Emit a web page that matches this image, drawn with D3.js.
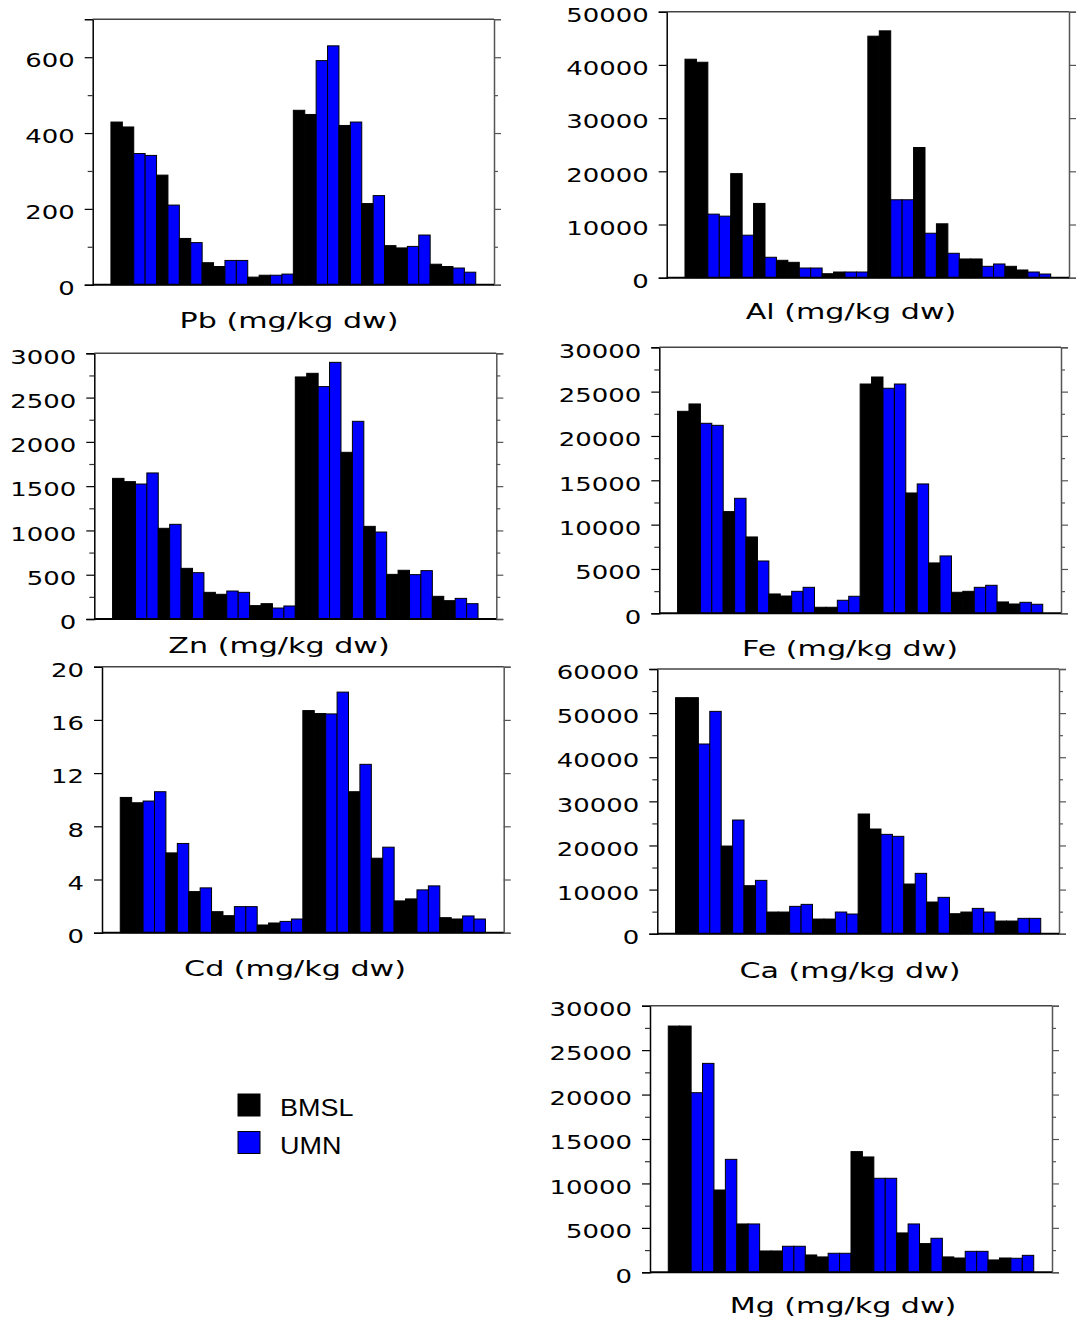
<!DOCTYPE html>
<html>
<head>
<meta charset="utf-8">
<script src="https://cdn.jsdelivr.net/npm/d3@7"></script>
<style>
  html, body { margin: 0; padding: 0; background: #fff; }
  svg { display: block; }
</style>
</head>
<body>
<svg id="chart" width="1077" height="1325"></svg>
<script>
// Laboratory of each bar, same order in every panel (two sites of 16 bars)
const sources = [
  "BMSL","BMSL","UMN","UMN","BMSL","UMN","BMSL","UMN","BMSL","BMSL","UMN","UMN","BMSL","BMSL","UMN","UMN",
  "BMSL","BMSL","UMN","UMN","BMSL","UMN","BMSL","UMN","BMSL","BMSL","UMN","UMN","BMSL","BMSL","UMN","UMN"
];

// Concentrations, mg/kg dry weight
const pb = [429,416,346,341,289,210,122,111,58,48,64,64,20,25,25,28,
            460,449,591,630,420,429,214,235,103,97,101,131,54,48,44,33];
const al = [41070,40500,11950,11570,19560,7990,13960,3840,3270,2890,1820,1820,750,1070,1070,1070,
            45400,46400,14650,14650,24470,8360,10130,4590,3520,3520,2140,2580,2140,1450,1070,690];
const zn = [1588,1551,1524,1649,1024,1069,572,523,301,279,316,301,151,173,124,147,
            2733,2774,2624,2898,1882,2232,1046,982,504,550,501,546,256,207,233,173];
const fe = [22780,23610,21430,21200,11470,12970,8610,5900,2180,1950,2480,2930,680,680,1470,1920,
            25860,26650,25380,25860,13570,14590,5680,6470,2370,2480,2930,3160,1280,1050,1240,1020];
const cd = [10.17,9.77,9.9,10.6,6.0,6.71,3.09,3.37,1.58,1.28,1.96,1.96,0.58,0.73,0.85,1.03,
            16.7,16.48,16.45,18.09,10.6,12.66,5.6,6.43,2.39,2.54,3.22,3.52,1.13,1.03,1.26,1.03];
const ca = [53500,53500,43000,50400,19870,25770,10880,12090,4910,4910,6200,6650,3320,3320,4910,4460,
            27130,23730,22520,22070,11260,13680,7180,8240,4530,4910,5740,4910,2870,2870,3480,3480];
const mg = [27710,27710,20210,23510,9260,12710,5440,5440,2400,2400,2930,2930,1950,1730,2140,2140,
            13580,12980,10580,10580,4430,5440,3230,3830,1730,1610,2360,2360,1390,1610,1580,1910];

// Axis tick values (labelled and unlabelled)
const pbTicks = [0,200,400,600],            pbMinor = [100,300,500];
const alTicks = [0,10000,20000,30000,40000,50000], alMinor = [];
const znTicks = [0,500,1000,1500,2000,2500,3000], znMinor = [250,750,1250,1750,2250,2750];
const feTicks = [0,5000,10000,15000,20000,25000,30000], feMinor = [2500,7500,12500,17500,22500,27500];
const cdTicks = [0,4,8,12,16,20],           cdMinor = [];
const caTicks = [0,10000,20000,30000,40000,50000,60000], caMinor = [5000,15000,25000,35000,45000,55000];
const mgTicks = [0,5000,10000,15000,20000,25000,30000], mgMinor = [2500,7500,12500,17500,22500,27500];

const titles = ["Pb (mg/kg dw)","Al (mg/kg dw)","Zn (mg/kg dw)","Fe (mg/kg dw)",
                "Cd (mg/kg dw)","Ca (mg/kg dw)","Mg (mg/kg dw)"];
const legendLabels = ["BMSL","UMN"];

const colour = { BMSL: "#000000", UMN: "#0000ff" };

// Panel layout: plot frame, y maximum, title anchor
const panels = [
  { values: pb, ticks: pbTicks, minor: pbMinor, max: 700,   x0: 92.7,  x1: 494,   y0: 19.3,  y1: 284.7,  title: titles[0], tx: 289, ty: 328 },
  { values: al, ticks: alTicks, minor: alMinor, max: 50000, x0: 666.7, x1: 1069,  y0: 11.7,  y1: 277.7,  title: titles[1], tx: 851, ty: 318.5 },
  { values: zn, ticks: znTicks, minor: znMinor, max: 3000,  x0: 94.3,  x1: 496.3, y0: 353.3, y1: 619,    title: titles[2], tx: 279, ty: 652.5 },
  { values: fe, ticks: feTicks, minor: feMinor, max: 30000, x0: 659.3, x1: 1061,  y0: 347.3, y1: 613.3,  title: titles[3], tx: 850, ty: 655.5 },
  { values: cd, ticks: cdTicks, minor: cdMinor, max: 20,    x0: 102,   x1: 503.7, y0: 666.7, y1: 932.7,  title: titles[4], tx: 295, ty: 975.5 },
  { values: ca, ticks: caTicks, minor: caMinor, max: 60000, x0: 657.3, x1: 1059,  y0: 669,   y1: 933.7,  title: titles[5], tx: 850, ty: 977.5 },
  { values: mg, ticks: mgTicks, minor: mgMinor, max: 30000, x0: 650,   x1: 1052,  y0: 1005.7,y1: 1272.3, title: titles[6], tx: 843, ty: 1312.5 }
];

const svg = d3.select("#chart");
const FONT = "'DejaVu Sans', Verdana, sans-serif";
const TICK_SX = 1.33;   // wide tick numerals
const TITLE_SX = 1.47;  // wide axis titles

panels.forEach(p => {
  const g = svg.append("g");
  const x = d3.scaleBand()
    .domain(d3.range(p.values.length))
    .range([p.x0, p.x1])
    .paddingInner(0)
    .paddingOuter(1.6);
  const y = d3.scaleLinear().domain([0, p.max]).range([p.y1, p.y0]);

  // bars
  g.selectAll("rect.bar")
    .data(p.values)
    .join("rect")
    .attr("class", "bar")
    .attr("x", (d, i) => x(i))
    .attr("width", x.bandwidth())
    .attr("y", d => y(d))
    .attr("height", d => y(0) - y(d))
    .attr("fill", (d, i) => colour[sources[i]])
    .attr("stroke", "#000")
    .attr("stroke-width", 1);

  // left axis (labelled)
  const left = d3.axisLeft(y).tickValues(p.ticks).tickSize(8).tickPadding(10)
    .tickFormat(d3.format("d"));
  const gl = g.append("g").attr("transform", `translate(${p.x0},0)`).call(left);
  gl.select(".domain").attr("stroke", "#000").attr("stroke-width", 1.5);
  gl.selectAll(".tick line").attr("stroke", "#000").attr("stroke-width", 1.2);
  gl.selectAll(".tick text")
    .attr("font-family", FONT).attr("font-size", 19.5).attr("fill", "#000")
    .attr("dy", "0.5em")
    .each(function () {
      const t = d3.select(this);
      const tx = +t.attr("x");
      t.attr("x", 0).attr("transform", `translate(${tx},0) scale(${TICK_SX},1)`);
    });
  if (p.minor.length) {
    g.append("g").attr("transform", `translate(${p.x0},0)`)
      .call(d3.axisLeft(y).tickValues(p.minor).tickSize(5).tickFormat(""))
      .call(s => s.select(".domain").remove())
      .selectAll(".tick line").attr("stroke", "#333").attr("stroke-width", 1.2);
  }

  // right axis (unlabelled, grey)
  const gr = g.append("g").attr("transform", `translate(${p.x1},0)`)
    .call(d3.axisRight(y).tickValues(p.ticks).tickSize(7).tickFormat(""));
  gr.select(".domain").attr("stroke", "#555").attr("stroke-width", 1.5);
  gr.selectAll(".tick line").attr("stroke", "#555").attr("stroke-width", 1.2);
  if (p.minor.length) {
    g.append("g").attr("transform", `translate(${p.x1},0)`)
      .call(d3.axisRight(y).tickValues(p.minor).tickSize(4).tickFormat(""))
      .call(s => s.select(".domain").remove())
      .selectAll(".tick line").attr("stroke", "#555").attr("stroke-width", 1.2);
  }

  // top frame and baseline
  g.append("line").attr("x1", p.x0).attr("x2", p.x1).attr("y1", y(p.max)).attr("y2", y(p.max))
    .attr("stroke", "#444").attr("stroke-width", 1.5);
  g.append("line").attr("x1", p.x0).attr("x2", p.x1).attr("y1", y(0)).attr("y2", y(0))
    .attr("stroke", "#000").attr("stroke-width", 2);

  // title
  g.append("text")
    .attr("transform", `translate(${p.tx},${p.ty}) scale(${TITLE_SX},1)`)
    .attr("text-anchor", "middle")
    .attr("font-family", FONT).attr("font-size", 20.5).attr("fill", "#000")
    .text(p.title);
});

// legend
const legend = svg.append("g");
legendLabels.forEach((lab, i) => {
  const cy = 1094 + i * 37.5;
  legend.append("rect")
    .attr("x", 238).attr("y", cy).attr("width", 22).attr("height", 22)
    .attr("fill", colour[lab]).attr("stroke", "#000").attr("stroke-width", 1);
  legend.append("text")
    .attr("transform", `translate(280,${cy + 22}) scale(1.1,1)`)
    .attr("font-family", "'Liberation Sans', Arial, sans-serif")
    .attr("font-size", 24.5).attr("fill", "#000")
    .text(lab);
});
</script>
</body>
</html>
